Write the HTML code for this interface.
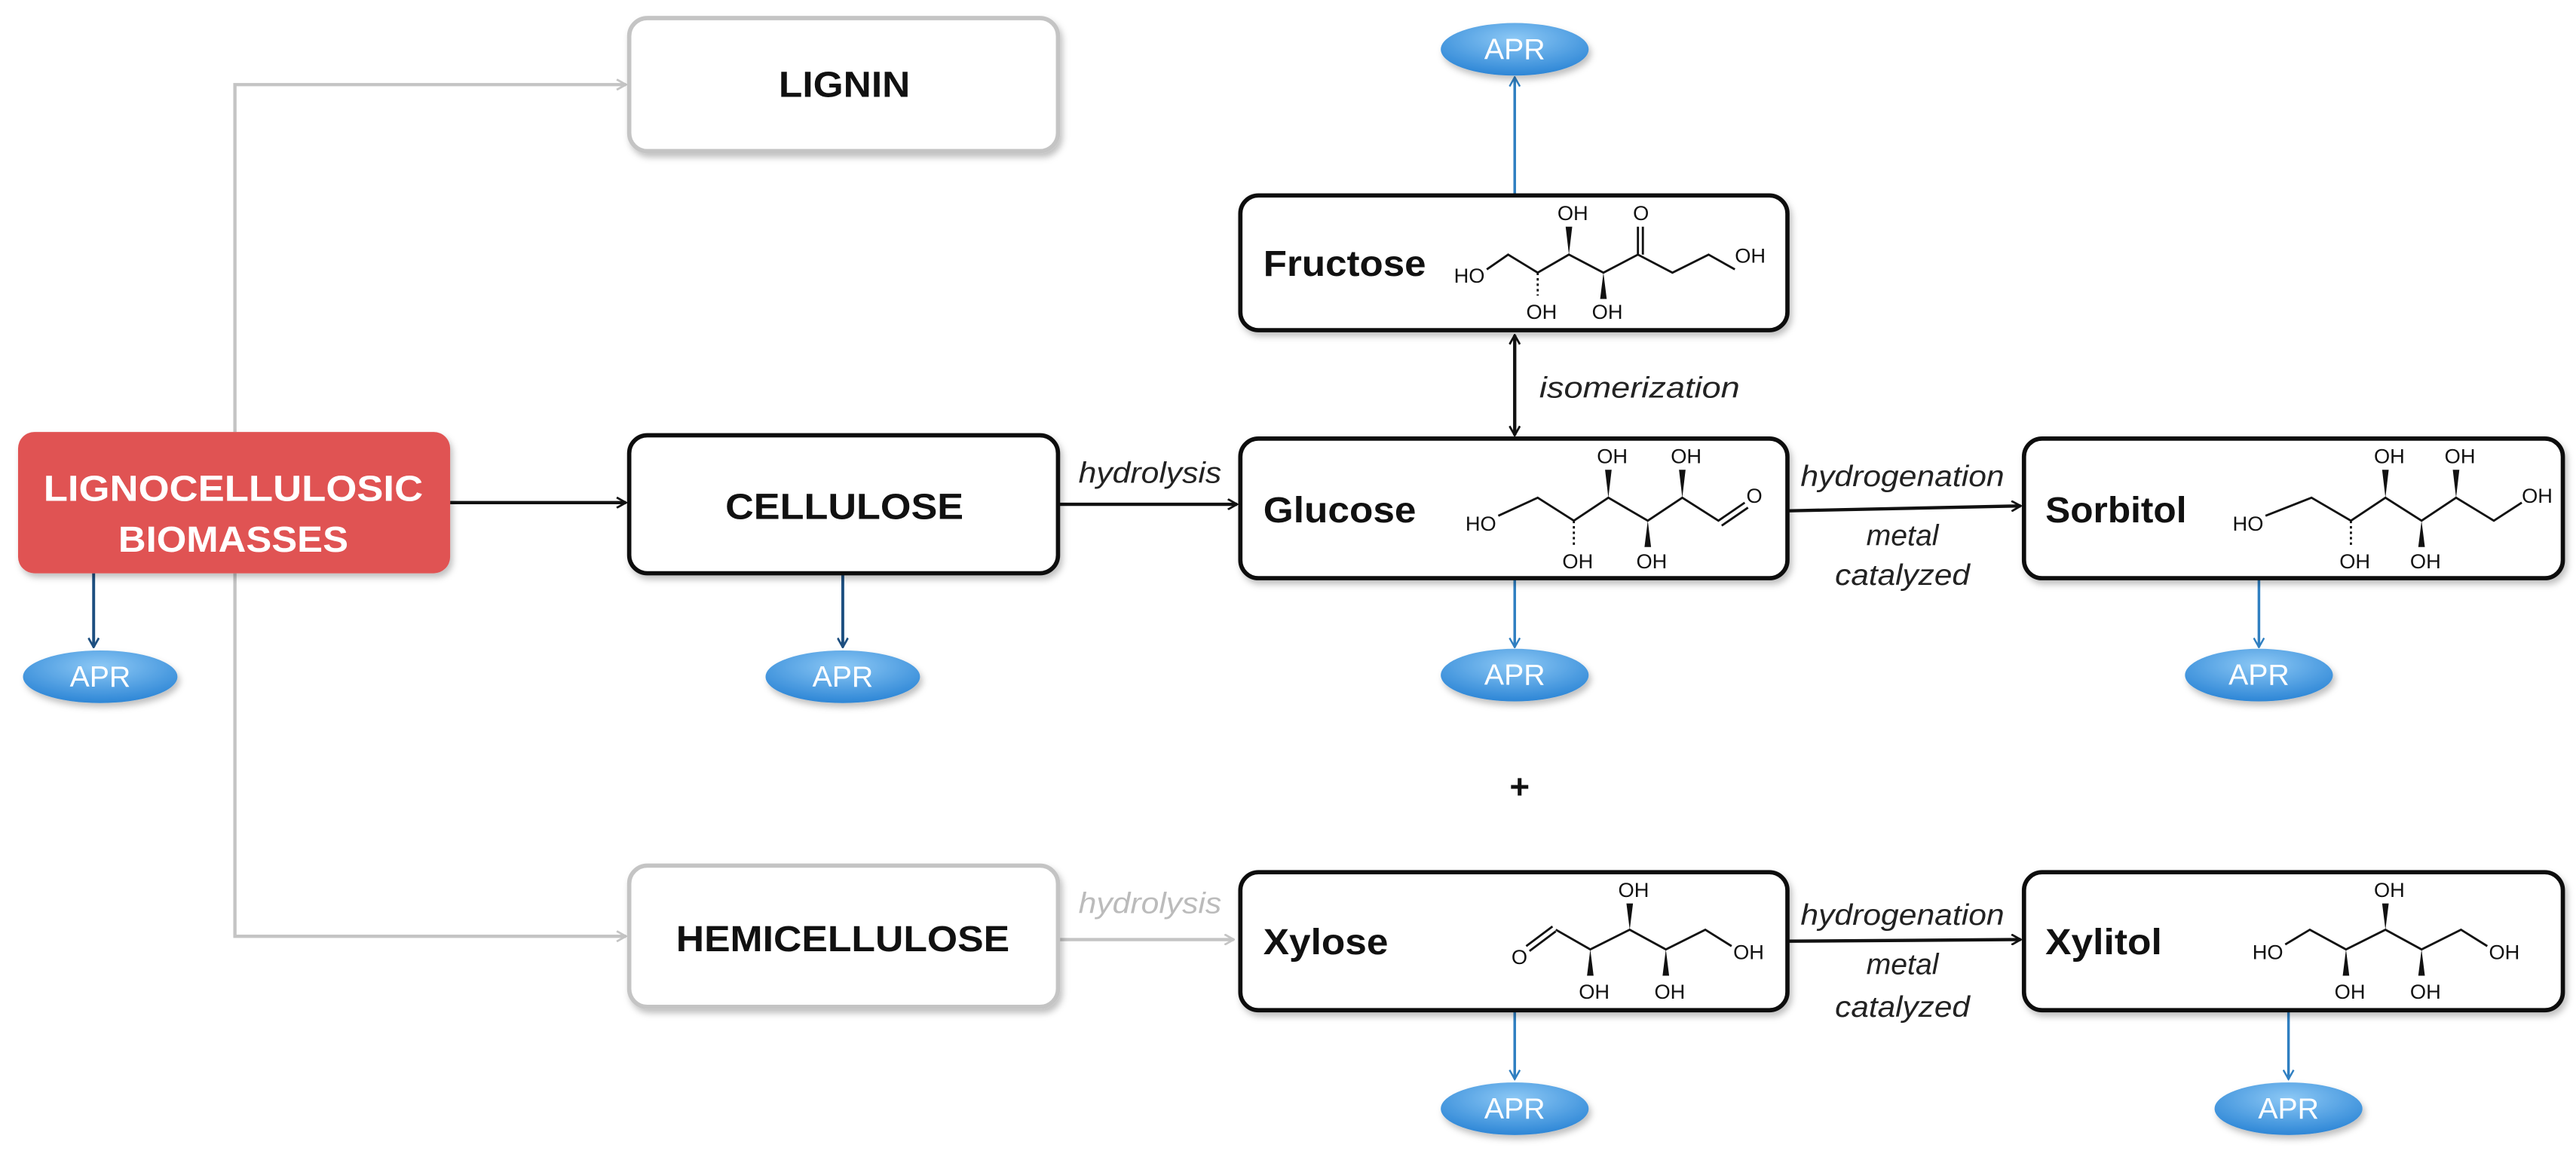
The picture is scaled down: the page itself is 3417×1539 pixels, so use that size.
<!DOCTYPE html>
<html><head><meta charset="utf-8"><style>
html,body{margin:0;padding:0;background:#fff;}
svg{display:block}
text{font-family:"Liberation Sans",Arial,sans-serif}
.t{font-weight:bold;font-size:22px;fill:#111}
.l{font-style:italic;font-size:18px;fill:#222}
.c{font-size:12.5px;fill:#111}
.b{fill:#fff;stroke:#111;stroke-width:2.6}
.bg{fill:#fff;stroke:#c4c4c4;stroke-width:2.6}
.bond{fill:none;stroke:#111;stroke-width:1.3}
</style></head><body>
<svg width="3417" height="1539" viewBox="0 0 1568 706.2" xmlns="http://www.w3.org/2000/svg">
<defs>
<marker id="ak" viewBox="0 0 10 10" refX="9" refY="5" markerWidth="7" markerHeight="7" orient="auto-start-reverse" markerUnits="userSpaceOnUse"><path d="M1,0.5 L9,5 L1,9.5" fill="none" stroke="#111" stroke-width="1.8"/></marker>
<marker id="ag" viewBox="0 0 10 10" refX="9" refY="5" markerWidth="7" markerHeight="7" orient="auto" markerUnits="userSpaceOnUse"><path d="M1,0.5 L9,5 L1,9.5" fill="none" stroke="#c4c4c4" stroke-width="1.8"/></marker>
<marker id="ab" viewBox="0 0 10 10" refX="9" refY="5" markerWidth="7" markerHeight="7" orient="auto" markerUnits="userSpaceOnUse"><path d="M1,0.5 L9,5 L1,9.5" fill="none" stroke="#2f7fc1" stroke-width="1.6"/></marker>
<marker id="ad" viewBox="0 0 10 10" refX="9" refY="5" markerWidth="7" markerHeight="7" orient="auto" markerUnits="userSpaceOnUse"><path d="M1,0.5 L9,5 L1,9.5" fill="none" stroke="#1d4f80" stroke-width="1.8"/></marker>
<radialGradient id="eg" cx="50%" cy="30%" r="70%"><stop offset="0" stop-color="#8cc8f5"/><stop offset="1" stop-color="#2d86d6"/></radialGradient>
<filter id="sh" x="-10%" y="-10%" width="125%" height="130%"><feDropShadow dx="1.5" dy="2.5" stdDeviation="2" flood-color="#000" flood-opacity="0.25"/></filter>
</defs>

<path d="M143,263 V51.5 H381" fill="none" stroke="#c4c4c4" stroke-width="2" marker-end="url(#ag)"/>
<path d="M143,349 V570 H381" fill="none" stroke="#c4c4c4" stroke-width="2" marker-end="url(#ag)"/>
<path d="M644,572 H751" fill="none" stroke="#c4c4c4" stroke-width="2" marker-end="url(#ag)"/>

<path d="M274,306 H381" stroke="#111" stroke-width="2" marker-end="url(#ak)"/>
<path d="M644,307 H753" stroke="#111" stroke-width="2" marker-end="url(#ak)"/>
<path d="M1088,311 L1230,308" stroke="#111" stroke-width="2" marker-end="url(#ak)"/>
<path d="M1088,573 L1230,572" stroke="#111" stroke-width="2" marker-end="url(#ak)"/>
<path d="M922,204 V265" stroke="#111" stroke-width="2" marker-start="url(#ak)" marker-end="url(#ak)"/>

<path d="M57,349 V394" stroke="#1d4f80" stroke-width="1.8" marker-end="url(#ad)"/>
<path d="M513,349 V394" stroke="#1d4f80" stroke-width="1.8" marker-end="url(#ad)"/>
<path d="M922,119 V47" stroke="#2f7fc1" stroke-width="1.6" marker-end="url(#ab)"/>
<path d="M922,352 V394" stroke="#2f7fc1" stroke-width="1.6" marker-end="url(#ab)"/>
<path d="M1375,352 V394" stroke="#2f7fc1" stroke-width="1.6" marker-end="url(#ab)"/>
<path d="M922,615 V657" stroke="#2f7fc1" stroke-width="1.6" marker-end="url(#ab)"/>
<path d="M1393,615 V657" stroke="#2f7fc1" stroke-width="1.6" marker-end="url(#ab)"/>

<rect x="11" y="263" width="263" height="86" rx="10" fill="#e05252" filter="url(#sh)"/>
<text x="142" y="305" text-anchor="middle" font-weight="bold" font-size="22" fill="#fff" textLength="231" lengthAdjust="spacingAndGlyphs">LIGNOCELLULOSIC</text>
<text x="142" y="336" text-anchor="middle" font-weight="bold" font-size="22" fill="#fff" textLength="140" lengthAdjust="spacingAndGlyphs">BIOMASSES</text>

<rect class="bg" x="383" y="11" width="261" height="81" rx="11" filter="url(#sh)"/>
<text class="t" x="514" y="59" text-anchor="middle" textLength="80" lengthAdjust="spacingAndGlyphs">LIGNIN</text>
<rect class="b" x="383" y="265" width="261" height="84" rx="11" filter="url(#sh)"/>
<text class="t" x="514" y="316" text-anchor="middle" textLength="145" lengthAdjust="spacingAndGlyphs">CELLULOSE</text>
<rect class="bg" x="383" y="527" width="261" height="86" rx="11" filter="url(#sh)"/>
<text class="t" x="513" y="579" text-anchor="middle" textLength="203" lengthAdjust="spacingAndGlyphs">HEMICELLULOSE</text>

<rect class="b" x="755" y="119" width="333" height="82" rx="11" filter="url(#sh)"/>
<text class="t" x="769" y="168" textLength="99" lengthAdjust="spacingAndGlyphs">Fructose</text>
<rect class="b" x="755" y="267" width="333" height="85" rx="11" filter="url(#sh)"/>
<text class="t" x="769" y="318" textLength="93" lengthAdjust="spacingAndGlyphs">Glucose</text>
<rect class="b" x="1232" y="267" width="328" height="85" rx="11" filter="url(#sh)"/>
<text class="t" x="1245" y="318" textLength="86" lengthAdjust="spacingAndGlyphs">Sorbitol</text>
<rect class="b" x="755" y="531" width="333" height="84" rx="11" filter="url(#sh)"/>
<text class="t" x="769" y="581" textLength="76" lengthAdjust="spacingAndGlyphs">Xylose</text>
<rect class="b" x="1232" y="531" width="328" height="84" rx="11" filter="url(#sh)"/>
<text class="t" x="1245" y="581" textLength="71" lengthAdjust="spacingAndGlyphs">Xylitol</text>

<text class="l" x="700" y="294" text-anchor="middle" textLength="87" lengthAdjust="spacingAndGlyphs">hydrolysis</text>
<text class="l" x="700" y="556" text-anchor="middle" style="fill:#bbb" textLength="87" lengthAdjust="spacingAndGlyphs">hydrolysis</text>
<text class="l" x="998" y="242" text-anchor="middle" textLength="122" lengthAdjust="spacingAndGlyphs">isomerization</text>
<text class="l" x="1158" y="296" text-anchor="middle" textLength="124" lengthAdjust="spacingAndGlyphs">hydrogenation</text>
<text class="l" x="1158" y="332" text-anchor="middle" textLength="44" lengthAdjust="spacingAndGlyphs">metal</text>
<text class="l" x="1158" y="356" text-anchor="middle" textLength="82" lengthAdjust="spacingAndGlyphs">catalyzed</text>
<text class="l" x="1158" y="563" text-anchor="middle" textLength="124" lengthAdjust="spacingAndGlyphs">hydrogenation</text>
<text class="l" x="1158" y="593" text-anchor="middle" textLength="44" lengthAdjust="spacingAndGlyphs">metal</text>
<text class="l" x="1158" y="619" text-anchor="middle" textLength="82" lengthAdjust="spacingAndGlyphs">catalyzed</text>
<text x="925" y="486" text-anchor="middle" font-weight="bold" font-size="21" fill="#111">+</text>

<g>
<text class="c" x="885" y="172">HO</text>
<polyline class="bond" points="905,164 918,155 936,166 955,155 976,166 997,155 1018,166 1040,155 1056,164"/>
<line class="bond" x1="936" y1="166" x2="936" y2="180" stroke-dasharray="1.5,1.8" stroke-width="3"/>
<text class="c" x="929" y="194">OH</text>
<polygon points="955,155 953,138 957,138" fill="#111"/>
<text class="c" x="948" y="134">OH</text>
<polygon points="976,166 974,182 978,182" fill="#111"/>
<text class="c" x="969" y="194">OH</text>
<line class="bond" x1="997" y1="155" x2="997" y2="138"/><line class="bond" x1="1000" y1="155" x2="1000" y2="138"/>
<text class="c" x="994" y="134">O</text>
<text class="c" x="1056" y="160">OH</text>
</g>

<g>
<text class="c" x="892" y="323">HO</text>
<polyline class="bond" points="912,314 936,303 958,317 979,303 1003,317 1024,303 1046,317 1062,306"/>
<line class="bond" x1="1048" y1="320" x2="1064" y2="309"/>
<line class="bond" x1="958" y1="317" x2="958" y2="332" stroke-dasharray="1.5,1.8" stroke-width="3"/>
<text class="c" x="951" y="346">OH</text>
<polygon points="979,303 977,286 981,286" fill="#111"/>
<text class="c" x="972" y="282">OH</text>
<polygon points="1003,317 1001,333 1005,333" fill="#111"/>
<text class="c" x="996" y="346">OH</text>
<polygon points="1024,303 1022,286 1026,286" fill="#111"/>
<text class="c" x="1017" y="282">OH</text>
<text class="c" x="1063" y="306">O</text>
</g>

<g>
<text class="c" x="1359" y="323">HO</text>
<polyline class="bond" points="1379,314 1407,303 1431,317 1452,303 1474,317 1495,303 1518,317 1535,306"/>
<line class="bond" x1="1431" y1="317" x2="1431" y2="332" stroke-dasharray="1.5,1.8" stroke-width="3"/>
<text class="c" x="1424" y="346">OH</text>
<polygon points="1452,303 1450,286 1454,286" fill="#111"/>
<text class="c" x="1445" y="282">OH</text>
<polygon points="1474,317 1472,333 1476,333" fill="#111"/>
<text class="c" x="1467" y="346">OH</text>
<polygon points="1495,303 1493,286 1497,286" fill="#111"/>
<text class="c" x="1488" y="282">OH</text>
<text class="c" x="1535" y="306">OH</text>
</g>

<g>
<text class="c" x="920" y="587">O</text>
<line class="bond" x1="929" y1="576" x2="945" y2="564"/><line class="bond" x1="931" y1="579" x2="947" y2="567"/>
<polyline class="bond" points="947,566 968,578 992,566 1014,578 1038,566 1054,576"/>
<polygon points="968,578 966,594 970,594" fill="#111"/>
<text class="c" x="961" y="608">OH</text>
<polygon points="992,566 990,550 994,550" fill="#111"/>
<text class="c" x="985" y="546">OH</text>
<polygon points="1014,578 1012,594 1016,594" fill="#111"/>
<text class="c" x="1007" y="608">OH</text>
<text class="c" x="1055" y="584">OH</text>
</g>

<g>
<text class="c" x="1371" y="584">HO</text>
<polyline class="bond" points="1391,575 1406,566 1428,578 1452,566 1474,578 1498,566 1514,576"/>
<polygon points="1428,578 1426,594 1430,594" fill="#111"/>
<text class="c" x="1421" y="608">OH</text>
<polygon points="1452,566 1450,550 1454,550" fill="#111"/>
<text class="c" x="1445" y="546">OH</text>
<polygon points="1474,578 1472,594 1476,594" fill="#111"/>
<text class="c" x="1467" y="608">OH</text>
<text class="c" x="1515" y="584">OH</text>
</g>

<g font-size="18" fill="#fff" text-anchor="middle">
<ellipse cx="61" cy="412" rx="47" ry="16" fill="url(#eg)" filter="url(#sh)"/><text x="61" y="418" fill="#fff">APR</text>
<ellipse cx="513" cy="412" rx="47" ry="16" fill="url(#eg)" filter="url(#sh)"/><text x="513" y="418" fill="#fff">APR</text>
<ellipse cx="922" cy="30" rx="45" ry="16" fill="url(#eg)" filter="url(#sh)"/><text x="922" y="36" fill="#fff">APR</text>
<ellipse cx="922" cy="411" rx="45" ry="16" fill="url(#eg)" filter="url(#sh)"/><text x="922" y="417" fill="#fff">APR</text>
<ellipse cx="1375" cy="411" rx="45" ry="16" fill="url(#eg)" filter="url(#sh)"/><text x="1375" y="417" fill="#fff">APR</text>
<ellipse cx="922" cy="675" rx="45" ry="16" fill="url(#eg)" filter="url(#sh)"/><text x="922" y="681" fill="#fff">APR</text>
<ellipse cx="1393" cy="675" rx="45" ry="16" fill="url(#eg)" filter="url(#sh)"/><text x="1393" y="681" fill="#fff">APR</text>
</g>
</svg>
</body></html>
